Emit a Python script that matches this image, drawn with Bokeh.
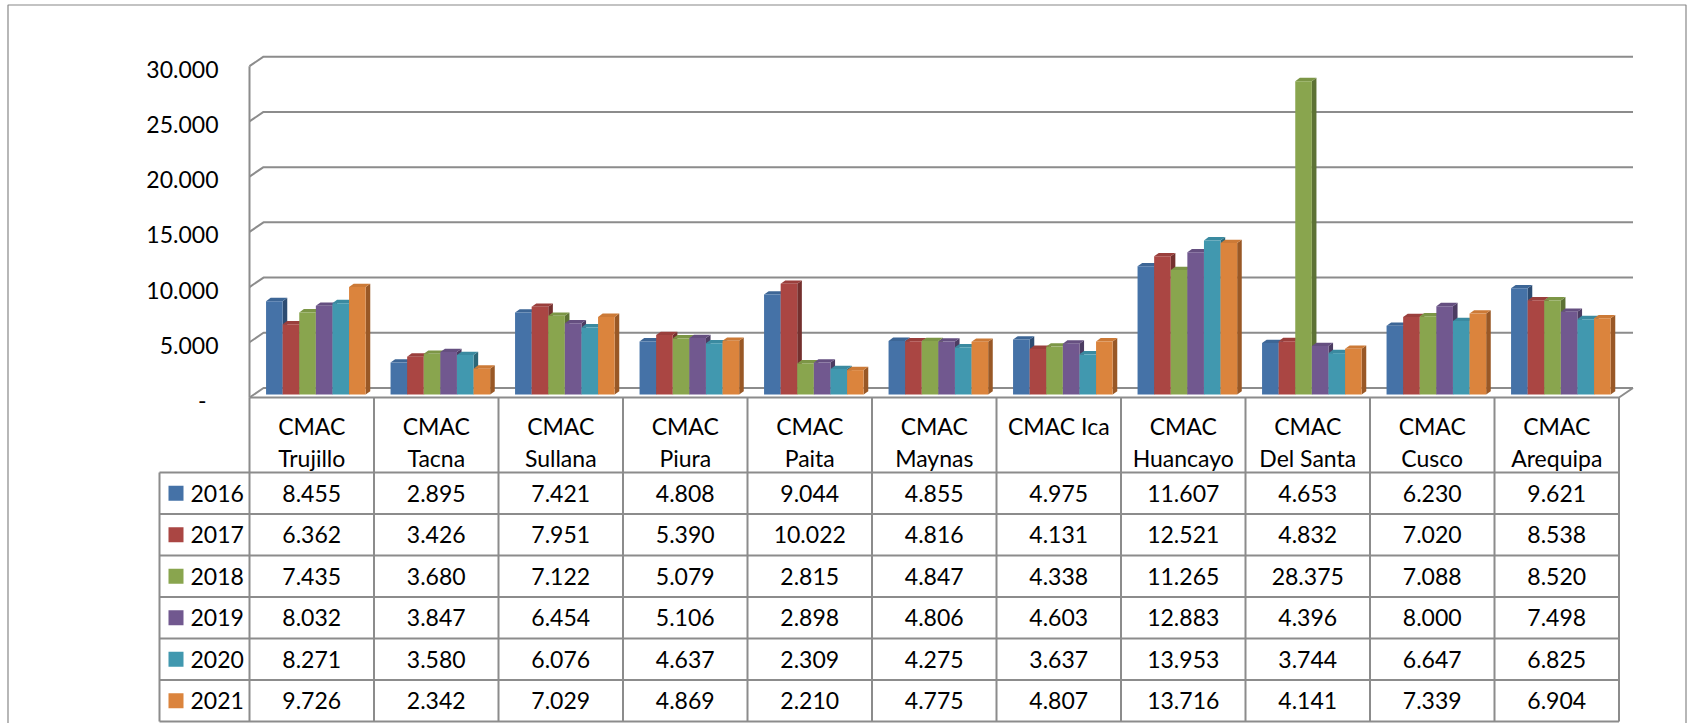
from bokeh.plotting import figure
from bokeh.models import Range1d
from bokeh.embed import file_html
from bokeh.resources import INLINE
from bokeh.core.properties import value

# ---------------- data ----------------
categories = ["CMAC Trujillo", "CMAC Tacna", "CMAC Sullana", "CMAC Piura", "CMAC Paita",
              "CMAC Maynas", "CMAC Ica", "CMAC Huancayo", "CMAC Del Santa", "CMAC Cusco",
              "CMAC Arequipa"]
years = ["2016", "2017", "2018", "2019", "2020", "2021"]
v2016 = [8455, 2895, 7421, 4808, 9044, 4855, 4975, 11607, 4653, 6230, 9621]
v2017 = [6362, 3426, 7951, 5390, 10022, 4816, 4131, 12521, 4832, 7020, 8538]
v2018 = [7435, 3680, 7122, 5079, 2815, 4847, 4338, 11265, 28375, 7088, 8520]
v2019 = [8032, 3847, 6454, 5106, 2898, 4806, 4603, 12883, 4396, 8000, 7498]
v2020 = [8271, 3580, 6076, 4637, 2309, 4275, 3637, 13953, 3744, 6647, 6825]
v2021 = [9726, 2342, 7029, 4869, 2210, 4775, 4807, 13716, 4141, 7339, 6904]
series = [v2016, v2017, v2018, v2019, v2020, v2021]
y_ticks = [0, 5000, 10000, 15000, 20000, 25000, 30000]
y_tick_labels = ["-", "5.000", "10.000", "15.000", "20.000", "25.000", "30.000"]

# ---------------- style ----------------
colors_front = ["#4572A7", "#AA4643", "#89A54E", "#71588F", "#4198AF", "#DB843D"]
colors_top = ["#3D6696", "#9A3F3C", "#7C9646", "#654F80", "#3A8AA0", "#CC7A37"]
colors_side = ["#2D4C72", "#74302E", "#5D7234", "#4C3C62", "#2B6778", "#995826"]
FONT = value("Lato")
FS = "23px"
LINE = "#8C8C8C"

W, H = 1687, 723
X0 = 249.0      # canvas x of front-left of the plot / table
CW = 124.5      # category width in px
Y0 = 397.0      # canvas y of the front floor (value 0)
PXU = 331.3 / 30000.0
T0 = 472.0      # canvas y of first data row top
RH = 41.5       # data row height
WDX, WDY = 14.0, 9.5   # wall depth offsets (px)
BDX, BDY = 4.6, 3.3    # bar depth offsets (px)
NC = len(categories)
NS = len(series)
BAR_W = 0.8 / NS
GROUP_OFF = 0.133


def ux(px):
    return px / CW


def uy(px):
    return px / PXU


def cx_to_x(cx):
    return (cx - X0) / CW


def cy_to_row(cy):
    return (cy - T0) / RH


p = figure(width=W, height=H, output_backend="svg", toolbar_location=None,
           x_axis_type=None, y_axis_type=None, min_border=0,
           x_range=Range1d(-X0 / CW, (W - X0) / CW),
           y_range=Range1d(-(H - Y0) / PXU, Y0 / PXU))
p.extra_y_ranges = {"tbl": Range1d((H - T0) / RH, -T0 / RH)}
p.outline_line_color = None
p.background_fill_color = "white"
p.border_fill_color = "white"

# outer border (bottom runs off the page)
bl = cx_to_x(7.5)
br = cx_to_x(1685.5)
bt = (Y0 - 4.5) / PXU
bb = -(H - Y0) / PXU - uy(50)
p.line([bl, bl, br, br], [bb, bt, bt, bb], line_color="#888888", line_width=1.2)

# back wall gridlines + left wall diagonals
gx, gy = [], []
for v in y_ticks:
    gx.append([0, ux(WDX), NC + ux(WDX)])
    gy.append([v, v + uy(WDY), v + uy(WDY)])
gx.append([0, 0]); gy.append([0, y_ticks[-1]])
gx.append([0, NC, NC + ux(WDX)]); gy.append([0, 0, uy(WDY)])
p.multi_line(gx, gy, line_color=LINE, line_width=2)

# 3D bars
base = uy(3)
for s in range(NS):
    vals = series[s]
    L = [i + GROUP_OFF + s * BAR_W for i in range(NC)]
    R = [l + BAR_W for l in L]
    T = [base + v for v in vals]
    side_x = [[r, r + ux(BDX), r + ux(BDX), r] for r in R]
    side_y = [[base, base + uy(BDY), t + uy(BDY), t] for t in T]
    top_x = [[l, r, r + ux(BDX), l + ux(BDX)] for l, r in zip(L, R)]
    top_y = [[t, t, t + uy(BDY), t + uy(BDY)] for t in T]
    p.patches(side_x, side_y, fill_color=colors_side[s], line_color=None)
    p.patches(top_x, top_y, fill_color=colors_top[s], line_color=None)
    p.quad(left=L, right=R, bottom=[base] * NC, top=T, fill_color=colors_front[s], line_color=None)

# y tick labels
lab_x = [cx_to_x(218 - (12 if t == "-" else 0)) for t in y_tick_labels]
p.text(x=lab_x, y=[v - uy(3) for v in y_ticks], text=y_tick_labels, text_font=FONT,
       text_font_size=FS, text_align="right", text_baseline="middle", text_color="black")

# ---------------- data table ----------------
HT = cy_to_row(Y0)
LX = cx_to_x(159)
tx, ty = [], []
for i in range(NC + 1):
    tx.append([i, i]); ty.append([HT, NS])
tx.append([LX, LX]); ty.append([0, NS])
for r in range(NS + 1):
    tx.append([LX, NC]); ty.append([r, r])
p.multi_line(tx, ty, line_color=LINE, line_width=2, y_range_name="tbl")

# header labels (wrapped like the original)
h_x, h_y, h_t = [], [], []
for i, c in enumerate(categories):
    if len(c) > 8:
        first, second = c.split(" ", 1)
        h_x += [i + 0.5, i + 0.5]; h_y += [cy_to_row(425), cy_to_row(457)]; h_t += [first, second]
    else:
        h_x.append(i + 0.5); h_y.append(cy_to_row(425)); h_t.append(c)
p.text(x=h_x, y=h_y, text=h_t, text_font=FONT, text_font_size=FS, text_align="center",
       text_baseline="middle", text_color="black", y_range_name="tbl")

# values
c_x, c_y, c_t = [], [], []
for r, vals in enumerate(series):
    for i, v in enumerate(vals):
        c_x.append(i + 0.5); c_y.append(r + 0.5); c_t.append(f"{v:,}".replace(",", "."))
p.text(x=c_x, y=c_y, text=c_t, text_font=FONT, text_font_size=FS, text_align="center",
       text_baseline="middle", text_color="black", y_range_name="tbl")

# legend keys
rows = [r + 0.5 for r in range(NS)]
p.scatter(x=[cx_to_x(175.5)] * NS, y=rows, marker="square", size=15,
          fill_color=colors_front, line_color=None, y_range_name="tbl")
p.text(x=[cx_to_x(190)] * NS, y=rows, text=years, text_font=FONT, text_font_size=FS,
       text_align="left", text_baseline="middle", text_color="black", y_range_name="tbl")

open("out.html", "w").write(file_html(p, INLINE))
